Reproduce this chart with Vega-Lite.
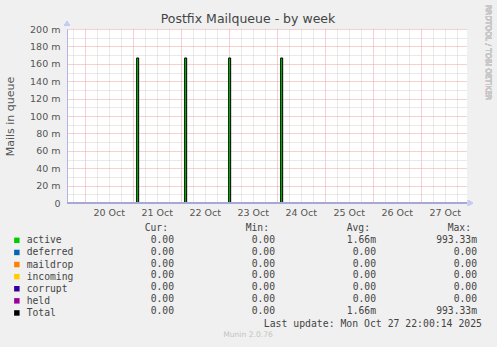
{
  "$schema": "https://vega.github.io/schema/vega-lite/v6.json",
  "width": 400,
  "height": 174,
  "autosize": {"type": "none"},
  "padding": {"left": 67, "top": 29, "right": 30, "bottom": 144},
  "background": "#f0f0f0",
  "title": {"text": "Postfix Mailqueue - by week", "font": "DejaVu Sans", "fontSize": 12.5, "fontWeight": "normal", "color": "#444444", "anchor": "middle", "frame": "group", "baseline": "alphabetic", "dx": -19, "offset": -31},
  "config": {
    "view": {"fill": "#ffffff", "stroke": null},
    "axis": {"labelFont": "DejaVu Sans", "titleFont": "DejaVu Sans", "labelColor": "#555555", "titleColor": "#555555"}
  },
  "datasets": {
    "series": [
      {"t": "2025-10-19T15:10:00Z", "series": "active", "v": 0},
      {"t": "2025-10-21T02:00:00Z", "series": "active", "v": 0.1667},
      {"t": "2025-10-21T03:00:00Z", "series": "active", "v": 0},
      {"t": "2025-10-22T02:00:00Z", "series": "active", "v": 0.1667},
      {"t": "2025-10-22T03:00:00Z", "series": "active", "v": 0},
      {"t": "2025-10-23T00:00:00Z", "series": "active", "v": 0.1667},
      {"t": "2025-10-23T01:00:00Z", "series": "active", "v": 0},
      {"t": "2025-10-24T02:00:00Z", "series": "active", "v": 0.1667},
      {"t": "2025-10-24T03:00:00Z", "series": "active", "v": 0},
      {"t": "2025-10-27T23:10:00Z", "series": "active", "v": 0},
      {"t": "2025-10-19T15:10:00Z", "series": "Total", "v": 0},
      {"t": "2025-10-21T02:00:00Z", "series": "Total", "v": 0.1667},
      {"t": "2025-10-21T03:00:00Z", "series": "Total", "v": 0},
      {"t": "2025-10-22T02:00:00Z", "series": "Total", "v": 0.1667},
      {"t": "2025-10-22T03:00:00Z", "series": "Total", "v": 0},
      {"t": "2025-10-23T00:00:00Z", "series": "Total", "v": 0.1667},
      {"t": "2025-10-23T01:00:00Z", "series": "Total", "v": 0},
      {"t": "2025-10-24T02:00:00Z", "series": "Total", "v": 0.1667},
      {"t": "2025-10-24T03:00:00Z", "series": "Total", "v": 0},
      {"t": "2025-10-27T23:10:00Z", "series": "Total", "v": 0}
    ],
    "table": [
      {"row": "hdr", "col": "Cur", "text": "Cur:"},
      {"row": "hdr", "col": "Min", "text": "Min:"},
      {"row": "hdr", "col": "Avg", "text": "Avg:"},
      {"row": "hdr", "col": "Max", "text": "Max:"},
      {"row": "active", "col": "Cur", "text": "0.00"},
      {"row": "active", "col": "Min", "text": "0.00"},
      {"row": "active", "col": "Avg", "text": "1.66m"},
      {"row": "active", "col": "Max", "text": "993.33m"},
      {"row": "deferred", "col": "Cur", "text": "0.00"},
      {"row": "deferred", "col": "Min", "text": "0.00"},
      {"row": "deferred", "col": "Avg", "text": "0.00"},
      {"row": "deferred", "col": "Max", "text": "0.00"},
      {"row": "maildrop", "col": "Cur", "text": "0.00"},
      {"row": "maildrop", "col": "Min", "text": "0.00"},
      {"row": "maildrop", "col": "Avg", "text": "0.00"},
      {"row": "maildrop", "col": "Max", "text": "0.00"},
      {"row": "incoming", "col": "Cur", "text": "0.00"},
      {"row": "incoming", "col": "Min", "text": "0.00"},
      {"row": "incoming", "col": "Avg", "text": "0.00"},
      {"row": "incoming", "col": "Max", "text": "0.00"},
      {"row": "corrupt", "col": "Cur", "text": "0.00"},
      {"row": "corrupt", "col": "Min", "text": "0.00"},
      {"row": "corrupt", "col": "Avg", "text": "0.00"},
      {"row": "corrupt", "col": "Max", "text": "0.00"},
      {"row": "held", "col": "Cur", "text": "0.00"},
      {"row": "held", "col": "Min", "text": "0.00"},
      {"row": "held", "col": "Avg", "text": "0.00"},
      {"row": "held", "col": "Max", "text": "0.00"},
      {"row": "Total", "col": "Cur", "text": "0.00"},
      {"row": "Total", "col": "Min", "text": "0.00"},
      {"row": "Total", "col": "Avg", "text": "1.66m"},
      {"row": "Total", "col": "Max", "text": "993.33m"},
      {"row": "update", "col": "Max", "text": "Last update: Mon Oct 27 22:00:14 2025"},
      {"row": "footer", "col": "Cur", "text": "Munin 2.0.76"}
    ]
  },
  "layer": [
    {
      "data": {"name": "series"},
      "layer": [
        {
          "transform": [{"filter": "datum.series == 'active'"}],
          "mark": {"type": "area", "interpolate": "step-after", "opacity": 1},
          "encoding": {
            "x": {
              "field": "t", "type": "temporal",
              "scale": {"type": "utc", "domain": [1760886600000, 1761606600000]},
              "axis": {
                "title": null,
                "tickCount": 200,
                "values": [1760896800000, 1760918400000, 1760940000000, 1760961600000, 1760983200000, 1761004800000, 1761026400000, 1761048000000, 1761069600000, 1761091200000, 1761112800000, 1761134400000, 1761156000000, 1761177600000, 1761199200000, 1761220800000, 1761242400000, 1761264000000, 1761285600000, 1761307200000, 1761328800000, 1761350400000, 1761372000000, 1761393600000, 1761415200000, 1761436800000, 1761458400000, 1761480000000, 1761501600000, 1761523200000, 1761544800000, 1761566400000, 1761588000000],
                "labelExpr": "utchours(datum.value) == 12 ? utcFormat(datum.value, '%d %b') : ''",
                "labelOverlap": false,
                "labelFlush": false,
                "labelFontSize": 9.5,
                "labelPadding": 4,
                "ticks": false,
                "domain": false,
                "grid": true,
                "gridColor": {"condition": {"test": "utchours(datum.value) == 0", "value": "#eba3a3"}, "value": "#d2d2d2"},
                "gridDash": [1, 1]
              }
            },
            "y": {
              "field": "v", "type": "quantitative", "stack": null,
              "scale": {"domain": [0, 0.2], "nice": false, "zero": true},
              "axis": {
                "title": "Mails in queue",
                "tickCount": 200,
                "values": [0, 0.01, 0.02, 0.03, 0.04, 0.05, 0.06, 0.07, 0.08, 0.09, 0.1, 0.11, 0.12, 0.13, 0.14, 0.15, 0.16, 0.17, 0.18, 0.19, 0.2],
                "labelExpr": "datum.value == 0 ? '0' : (round(datum.value * 1000) % 20 == 0 ? round(datum.value * 1000) + ' m' : '')",
                "labelOverlap": false,
                "labelFontSize": 9.5,
                "labelPadding": 7,
                "ticks": false,
                "domainColor": "#b4b4e4",
                "grid": true,
                "gridColor": {"condition": {"test": "round(datum.value * 100) % 2 == 0", "value": "#eba3a3"}, "value": "#d2d2d2"},
                "gridDash": [1, 1],
                "titleFontSize": 11,
                "titleFontWeight": "normal",
                "titleX": -57,
                "titleY": 87,
                "titleAlign": "center",
                "titleBaseline": "middle"
              }
            },
            "color": {
              "field": "series", "type": "nominal",
              "scale": {"domain": ["active", "deferred", "maildrop", "incoming", "corrupt", "held", "Total"], "range": ["#00cc00", "#0066b3", "#ff8000", "#ffcc00", "#330099", "#990099", "#000000"]},
              "legend": {
                "orient": "none", "legendX": -55, "legendY": 206.5, "title": null,
                "symbolType": "square", "symbolSize": 30, "symbolStrokeWidth": 0, "symbolOpacity": 1,
                "labelFont": "DejaVu Sans Mono", "labelFontSize": 9.7, "labelColor": "#444444",
                "labelOffset": 5, "rowPadding": 1.1, "padding": 0
              }
            }
          }
        },
        {
          "transform": [{"filter": "datum.series == 'Total'"}],
          "mark": {"type": "line", "interpolate": "step-after", "strokeWidth": 1},
          "encoding": {
            "x": {"field": "t", "type": "temporal"},
            "y": {"field": "v", "type": "quantitative"},
            "color": {"field": "series", "type": "nominal", "legend": null}
          }
        },
        {
          "mark": {"type": "rule", "color": "#a8a8d8", "strokeWidth": 1},
          "encoding": {"y": {"datum": 0}}
        },
        {
          "mark": {"type": "point", "shape": "triangle-up", "filled": true, "color": "#c4ccf6", "size": 35, "opacity": 1},
          "encoding": {
            "x": {"datum": {"year": 2025, "month": 10, "date": 19, "hours": 15, "minutes": 10, "utc": true}, "type": "temporal"},
            "y": {"datum": 0.2063}
          }
        },
        {
          "mark": {"type": "point", "shape": "triangle-right", "filled": true, "color": "#c4ccf6", "size": 35, "opacity": 1},
          "encoding": {
            "x": {"datum": {"year": 2025, "month": 10, "date": 28, "hours": 0, "minutes": 55, "utc": true}, "type": "temporal"},
            "y": {"datum": 0}
          }
        },
        {
          "mark": {"type": "text", "angle": 90, "font": "DejaVu Sans", "fontSize": 7.4, "color": "#c8c8c8", "dy": -21, "align": "center", "baseline": "middle"},
          "encoding": {
            "x": {"datum": {"year": 2025, "month": 10, "date": 27, "hours": 23, "minutes": 10, "utc": true}, "type": "temporal"},
            "y": {"datum": 0.173},
            "text": {"value": "RRDTOOL / TOBI OETIKER"}
          }
        }
      ]
    },
    {
      "data": {"name": "table"},
      "encoding": {
        "x": {"field": "col", "type": "nominal", "scale": {"type": "point", "domain": ["Cur", "Min", "Avg", "Max"], "range": [107, 410], "padding": 0}, "axis": null},
        "y": {"field": "row", "type": "nominal", "scale": {"type": "point", "domain": ["hdr", "active", "deferred", "maildrop", "incoming", "corrupt", "held", "Total", "update", "footer"], "range": [199, 305.7], "padding": 0}, "axis": null},
        "text": {"field": "text"}
      },
      "layer": [
        {
          "transform": [{"filter": "datum.row == 'hdr'"}],
          "mark": {"type": "text", "align": "right", "dx": -6, "baseline": "middle", "font": "DejaVu Sans Mono", "fontSize": 9.7, "color": "#444444"}
        },
        {
          "transform": [{"filter": "datum.row != 'hdr' && datum.row != 'update' && datum.row != 'footer'"}],
          "mark": {"type": "text", "align": "right", "baseline": "middle", "font": "DejaVu Sans Mono", "fontSize": 9.7, "color": "#444444"}
        },
        {
          "transform": [{"filter": "datum.row == 'update'"}],
          "mark": {"type": "text", "align": "right", "dx": 5, "dy": 1, "baseline": "middle", "font": "DejaVu Sans Mono", "fontSize": 9.8, "color": "#444444"}
        },
        {
          "transform": [{"filter": "datum.row == 'footer'"}],
          "mark": {"type": "text", "align": "center", "dx": 74, "baseline": "middle", "font": "DejaVu Sans", "fontSize": 7.6, "color": "#c4c4c4"}
        }
      ]
    }
  ],
  "resolve": {"scale": {"x": "independent", "y": "independent"}}
}
